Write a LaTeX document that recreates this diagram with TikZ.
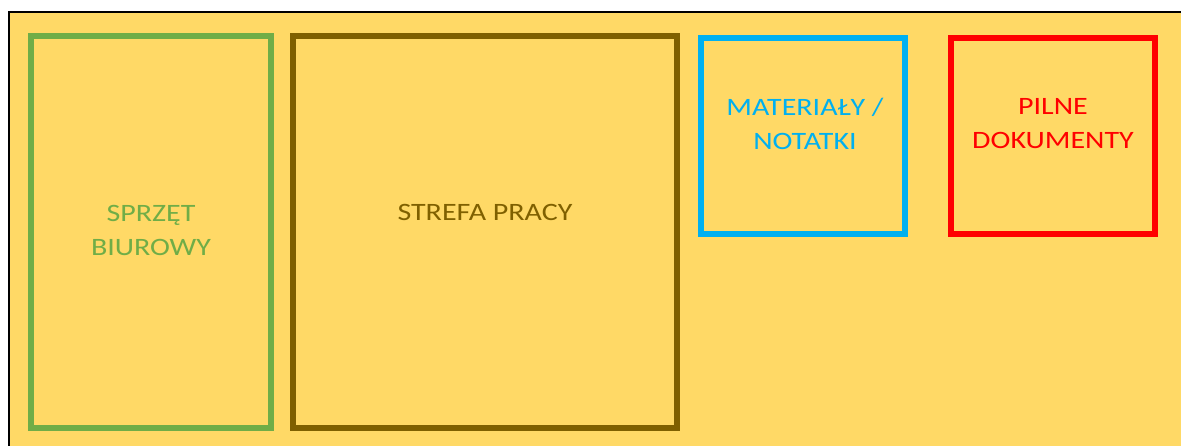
\documentclass[tikz,border=0pt]{standalone}
\usepackage{fontspec}
\setmainfont{Carlito}[FakeStretch=1.2]
\definecolor{bgyellow}{HTML}{FFD966}
\definecolor{zgreen}{HTML}{70AD47}
\definecolor{zbrown}{HTML}{7F6000}
\definecolor{zblue}{HTML}{00B0F0}
\definecolor{zred}{HTML}{FF0000}
\begin{document}
\begin{tikzpicture}[x=1pt,y=-1pt,
  zone/.style={draw=#1, line width=6pt, inner sep=0pt, outer sep=0pt},
  lbl/.style={text=#1, font=\fontsize{25}{34}\selectfont, align=center, inner sep=0pt}]
\useasboundingbox (0,0) rectangle (1181,446);
\fill[bgyellow] (9,12) rectangle (1181,446);
\draw[black, line width=2pt] (9,446) -- (9,12) -- (1181,12);
\node[zone=zgreen, minimum width=240pt, minimum height=392pt] (office) at (151,232) {};
\node[zone=zbrown, minimum width=384pt, minimum height=392pt] (work) at (485,232) {};
\node[zone=zblue, minimum width=204pt, minimum height=196pt] (notes) at (803,136) {};
\node[zone=zred, minimum width=204pt, minimum height=196pt] (urgent) at (1053,136) {};
\node[lbl=zgreen] (officeT) at (151,230) {SPRZĘT\\BIUROWY};
\node[lbl=zbrown] (workT) at (485,212) {STREFA PRACY};
\node[lbl=zblue] (notesT) at (805,124) {MATERIAŁY /\\NOTATKI};
\node[lbl=zred] (urgentT) at (1053,124) {PILNE\\DOKUMENTY};
\end{tikzpicture}
\end{document}
